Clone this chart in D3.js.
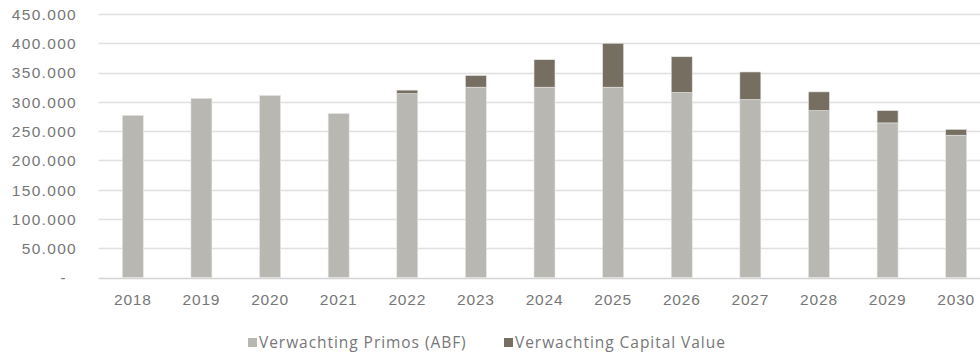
<!DOCTYPE html>
<html>
<head>
<meta charset="utf-8">
<script src="https://cdn.jsdelivr.net/npm/d3@7"></script>
<style>
  body { margin: 0; background: #fff; }
  svg { display: block; font-family: "Open Sans", sans-serif; }
  .tick text { fill: #777; font-size: 15.5px; }
  .y-axis .tick text { letter-spacing: 1.3px; }
  .x-axis .tick text { letter-spacing: 0.8px; }
  .legend text { fill: #777; font-size: 15.5px; letter-spacing: 0.95px; }
</style>
</head>
<body>
<svg class="chart"></svg>
<script>
// chart data
var years = ["2018","2019","2020","2021","2022","2023","2024","2025","2026","2027","2028","2029","2030"];
var primos = [277000, 306000, 311000, 280000, 314000, 325000, 325000, 325000, 316000, 304000, 285000, 264000, 243000];
var capitalValue = [0, 0, 0, 0, 6000, 20000, 47000, 75000, 61000, 47000, 32000, 21000, 10000];
var yTicks = [0, 50000, 100000, 150000, 200000, 250000, 300000, 350000, 400000, 450000];
var seriesNames = ["Verwachting Primos (ABF)", "Verwachting Capital Value"];
var seriesColors = ["#b8b7b2", "#776e62"];

var width = 980, height = 356;
var plotLeft = 98.5, plotRight = 990.5, plotTop = 14, plotBottom = 277.5;
var barWidth = 21;

var svg = d3.select(".chart").attr("width", width).attr("height", height);

var x = d3.scaleBand().domain(years).range([plotLeft, plotRight]);
var y = d3.scaleLinear().domain([0, 450000]).range([plotBottom, plotTop]);

var fmt = function(d) {
  if (d === 0) return "-";
  return d3.format(",")(d).replace(/,/g, ".");
};

// gridlines
svg.append("g").selectAll("line").data(yTicks).enter().append("line")
   .attr("x1", plotLeft).attr("x2", width)
   .attr("y1", function(d) { return Math.round(y(d)) + 0.5; })
   .attr("y2", function(d) { return Math.round(y(d)) + 0.5; })
   .attr("stroke", function(d) { return d === 0 ? "#d4d4d4" : "#e0e0e0"; })
   .attr("stroke-width", 1.3);

// y axis labels
var yAxis = svg.append("g").attr("class", "y-axis").attr("transform", "translate(77,0)")
   .call(d3.axisLeft(y).tickValues(yTicks).tickFormat(fmt).tickSize(0).tickPadding(0));
yAxis.select(".domain").remove();
yAxis.selectAll(".tick text").attr("dy", "0.35em");
// accounting style: the dash sits a bit left of the numbers
yAxis.selectAll(".tick text").filter(function(d) { return d === 0; }).attr("x", -10);

// x axis labels
var xAxis = svg.append("g").attr("class", "x-axis").attr("transform", "translate(0," + plotBottom + ")")
   .call(d3.axisBottom(x).tickSize(0).tickPadding(16));
xAxis.select(".domain").remove();

// stacked bars
var stackData = years.map(function(yr, i) { return { year: yr, p: primos[i], c: capitalValue[i] }; });
var series = d3.stack().keys(["p", "c"])(stackData);

svg.append("g").selectAll("g").data(series).enter().append("g")
   .attr("fill", function(d, i) { return seriesColors[i]; })
   .selectAll("rect").data(function(d) { return d; }).enter().append("rect")
   .attr("x", function(d) { return x(d.data.year) + x.bandwidth() / 2 - barWidth / 2; })
   .attr("width", barWidth)
   .attr("y", function(d) { return y(d[1]); })
   .attr("height", function(d) { return y(d[0]) - y(d[1]); })
   .attr("stroke", "#e6e6e4")
   .attr("stroke-width", 0.6);

// legend
var legendX = [248, 504];
var legend = svg.append("g").attr("class", "legend");
seriesNames.forEach(function(name, i) {
  legend.append("rect").attr("x", legendX[i]).attr("y", 338).attr("width", 9).attr("height", 9)
        .attr("fill", seriesColors[i]);
  legend.append("text").attr("x", legendX[i] + 11).attr("y", 343).attr("dy", "0.35em").text(name);
});
</script>
</body>
</html>
